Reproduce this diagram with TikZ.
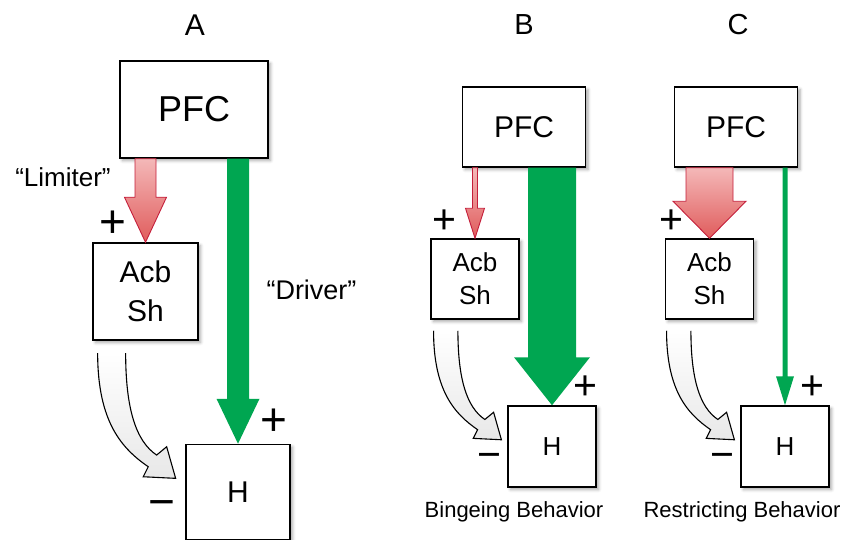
\documentclass[tikz,border=0pt]{standalone}
\usepackage{fontspec}
\setmainfont{Liberation Sans}
\usepackage{tikz}
\usetikzlibrary{positioning, calc, shadows.blur}
\definecolor{drivegreen}{RGB}{0,166,81}
\definecolor{limline}{RGB}{196,30,58}
\definecolor{limtop}{RGB}{244,184,184}
\definecolor{limbot}{RGB}{224,92,92}
\tikzset{
    box/.style={draw,line width=1.5pt,fill=white,inner sep=0,align=center,
        blur shadow={shadow xshift=2.5pt,shadow yshift=-2.5pt,shadow blur radius=3pt,shadow opacity=35}},
    limiter/.style={draw=limline,line width=0.9pt,top color=limtop,bottom color=limbot},
    driver/.style={fill=drivegreen},
    sharrow/.style={draw,line width=1.1pt,top color=white,bottom color=black!9},
    signA/.style={font=\fontsize{46}{50}\selectfont,inner sep=0},
    signBC/.style={font=\fontsize{41}{44}\selectfont,inner sep=0},
}
% block arrow: style, source, target, shaft half width, head half width, head length
\newcommand{\blockarrow}[6]{%
    \path[#1] let \p1=(#2.south -| #3.north), \p2=(#3.north) in
        (\x1-#4pt,\y1) -- (\x1+#4pt,\y1) -- (\x1+#4pt,\y2+#6pt) -- (\x1+#5pt,\y2+#6pt)
        -- (\p2) -- (\x1-#5pt,\y2+#6pt) -- (\x1-#4pt,\y2+#6pt) -- cycle;}
% bent arrow from below Acb Sh towards H: node, offset, scale
\newcommand{\curvearrow}[3]{%
    \begin{scope}[shift={($(#1.south west)+#2$)},scale=#3]
        \path[sharrow] (0,0) .. controls (0,70) and (25,96) .. (50.6,113.7) -- (45.6,123.7)
            -- (78,125.3) -- (69,93.7) -- (59,102) .. controls (38,88) and (28,55) .. (28,0);
    \end{scope}}

\begin{document}
\begin{tikzpicture}[x=1pt,y=-1pt]
    \useasboundingbox (0,0) rectangle (848,540);
    % panel A
    \node[font=\fontsize{30}{36}\selectfont] (labA) at (195,25) {A};
    \node[box,minimum width=148pt,minimum height=97pt,font=\fontsize{36}{40}\selectfont] (pfcA) at (194,109.5) {PFC};
    \node[box,minimum width=105pt,minimum height=97pt,font=\fontsize{30}{39}\selectfont] (acbA) at (145.5,291.5) {Acb\\Sh};
    \node[box,minimum width=104pt,minimum height=95pt,font=\fontsize{30}{36}\selectfont] (hA) at (238,492) {H};
    \blockarrow{limiter}{pfcA}{acbA}{10.5}{21}{45}
    \blockarrow{driver}{pfcA}{hA}{11}{21.5}{45}
    \curvearrow{acbA}{(5.4,12.3)}{1}
    \node[font=\fontsize{26}{30}\selectfont] (limA) at (63,177) {“Limiter”};
    \node[font=\fontsize{27}{30}\selectfont] (drvA) at (311.5,290) {“Driver”};
    \node[signA] (plusA1) at (113,224) {+};
    \node[signA] (plusA2) at (274,422) {+};
    \node[signA] (minusA) at (162,509) {−};
    % panel B
    \node[font=\fontsize{29}{36}\selectfont] (labB) at (524,25) {B};
    \node[box,minimum width=123pt,minimum height=80pt,font=\fontsize{30}{36}\selectfont] (pfcB) at (524,127) {PFC};
    \node[box,minimum width=88pt,minimum height=80pt,font=\fontsize{26}{33}\selectfont] (acbB) at (475,279) {Acb\\Sh};
    \node[box,minimum width=88pt,minimum height=81pt,font=\fontsize{26}{30}\selectfont] (hB) at (552,446.5) {H};
    \blockarrow{limiter}{pfcB}{acbB}{2.5}{9.5}{30}
    \blockarrow{driver}{pfcB}{hB}{24}{38}{48}
    \curvearrow{acbB}{(3.3,11)}{0.87}
    \node[signBC] (plusB1) at (444,222) {+};
    \node[signBC] (plusB2) at (585,388) {+};
    \node[signBC] (minusB) at (489,461) {−};
    \node[anchor=base,font=\fontsize{22}{26}\selectfont] (bingB) at (514,517) {Bingeing Behavior};
    % panel C
    \node[font=\fontsize{29}{36}\selectfont] (labC) at (738,25) {C};
    \node[box,minimum width=123pt,minimum height=80pt,font=\fontsize{30}{36}\selectfont] (pfcC) at (736,127) {PFC};
    \node[box,minimum width=88pt,minimum height=80pt,font=\fontsize{26}{33}\selectfont] (acbC) at (709.5,279) {Acb\\Sh};
    \node[box,minimum width=88pt,minimum height=81pt,font=\fontsize{26}{30}\selectfont] (hC) at (785,446.5) {H};
    \blockarrow{limiter}{pfcC}{acbC}{23.5}{36.5}{37}
    \blockarrow{driver}{pfcC}{hC}{2.5}{9}{29}
    \curvearrow{acbC}{(1.8,11)}{0.87}
    \node[signBC] (plusC1) at (671,222) {+};
    \node[signBC] (plusC2) at (812,388) {+};
    \node[signBC] (minusC) at (722,461) {−};
    \node[anchor=base,font=\fontsize{22}{26}\selectfont] (restC) at (742,517) {Restricting Behavior};
\end{tikzpicture}
\end{document}
